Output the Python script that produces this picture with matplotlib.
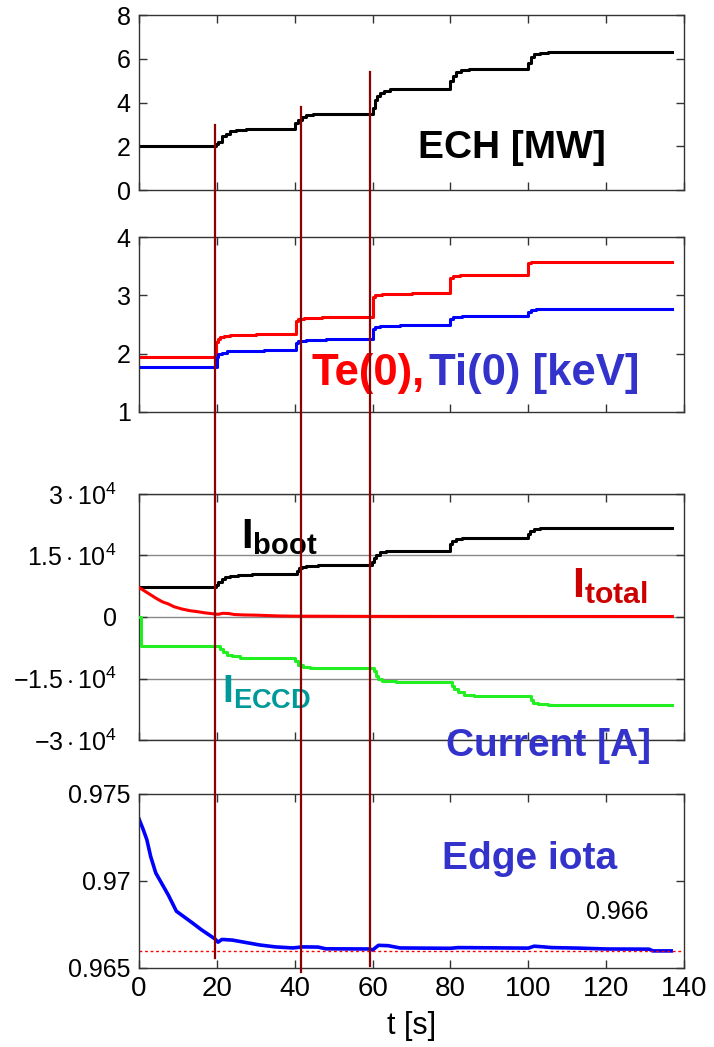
import numpy as np
import matplotlib
matplotlib.use("Agg")
import matplotlib.pyplot as plt
from matplotlib.lines import Line2D

plt.rcParams['font.family'] = ['Liberation Sans', 'DejaVu Sans']
plt.rcParams['mathtext.fontset'] = 'custom'
plt.rcParams['mathtext.rm'] = 'Liberation Sans'
plt.rcParams['mathtext.it'] = 'Liberation Sans:italic'
plt.rcParams['mathtext.bf'] = 'Liberation Sans:bold'

# ECH power [MW] (step data)
ech_t = [0, 19.7, 20.4, 21.3, 22.3, 23.5, 25, 27.5, 40.1, 40.8, 41.8, 43, 44.7,
         60, 60.5, 61.2, 62, 63, 64.5, 72, 80, 80.6, 81.5, 82.8, 84.8, 92,
         100, 100.6, 101.5, 103, 105, 137]
ech_v = [2.0, 2.12, 2.2, 2.45, 2.58, 2.68, 2.74, 2.78, 3.05, 3.2, 3.35, 3.42, 3.47,
         3.75, 4.1, 4.3, 4.45, 4.55, 4.6, 4.63, 5.0, 5.2, 5.38, 5.48, 5.52, 5.53,
         5.8, 6.1, 6.22, 6.28, 6.31, 6.31]

# central temperatures [keV]
te_t = [0, 19.9, 20.2, 20.8, 21.8, 23.5, 30, 40.3, 40.9, 42.5, 47, 60, 60.7, 62.5, 70,
        80, 80.6, 82.5, 100, 100.6, 137]
te_v = [1.94, 2.2, 2.26, 2.29, 2.31, 2.32, 2.33, 2.56, 2.6, 2.62, 2.63, 2.97, 3.01, 3.03, 3.04,
        3.3, 3.33, 3.35, 3.55, 3.58, 3.58]
ti_t = [0, 20, 20.4, 21.2, 22.5, 25, 32, 40.2, 40.8, 43, 48, 60, 60.6, 62, 67,
        80, 80.6, 83, 100, 100.6, 102, 106, 137]
ti_v = [1.77, 1.95, 1.99, 2.02, 2.04, 2.05, 2.06, 2.18, 2.22, 2.24, 2.25, 2.42, 2.46, 2.48, 2.49,
        2.6, 2.63, 2.65, 2.72, 2.75, 2.76, 2.77, 2.77]

# currents [A]
boot_t = [0, 19.8, 20.4, 21.2, 22.2, 23.5, 25.5, 29, 40.5, 41.0, 41.8, 43, 46,
          59.8, 60.3, 61, 62, 63.5, 68, 80, 80.5, 81.5, 83, 100, 100.5, 101.5, 103, 137]
boot_v = [7200, 7800, 8600, 9300, 9800, 10100, 10300, 10400, 11300, 11900, 12300, 12500, 12600,
          13500, 14500, 15200, 15800, 16000, 16200, 17800, 18600, 19000, 19300,
          20300, 21000, 21400, 21600, 21600]
total_t = [0, 1, 2, 3, 4.5, 6, 7.5, 9, 11, 13, 15, 17, 19, 20.3, 21.5, 23, 24.5, 27, 30,
           33, 36, 40, 60, 100, 137]
total_v = [7200, 6600, 6000, 5400, 4500, 3700, 3200, 2500, 1950, 1550, 1300, 1000, 780, 650,
           900, 850, 600, 500, 450, 350, 250, 200, 150, 130, 120]
eccd_t = [0, 0.4, 20.8, 21.6, 22.5, 24, 26, 40.1, 40.8, 42, 44, 60.3, 60.8, 61.5, 62.5, 66,
          80.3, 81, 82, 83.5, 86, 100.6, 101.2, 102.5, 105, 137]
eccd_v = [0, -7000, -7800, -8600, -9200, -9600, -10000, -10800, -11600, -12100, -12400,
          -13200, -14300, -15200, -15700, -15900, -16800, -17600, -18200, -18900, -19200,
          -20200, -20900, -21300, -21500, -21500]

# edge rotational transform
iota_t = [0, 1, 2, 3, 4.3, 6, 7.5, 9.6, 11.5, 13.7, 16, 19.5, 20.3, 21.3, 24, 26, 28, 31, 35,
          39.5, 42, 46, 48, 59.3, 60, 61.5, 64, 67, 80, 82, 100, 101.5, 104, 106, 113, 120,
          131, 132, 136.7]
iota_v = [0.97356, 0.9730, 0.97238, 0.9714, 0.97046, 0.96979, 0.9692, 0.96826, 0.96795,
          0.96759, 0.9672, 0.96667, 0.96648, 0.96664, 0.96660, 0.96652, 0.96644, 0.96632,
          0.96621, 0.96615, 0.96621, 0.96620, 0.96610, 0.96609, 0.96603, 0.96630, 0.96628,
          0.96615, 0.96613, 0.96617, 0.96614, 0.96625, 0.96621, 0.96617, 0.96614, 0.96609,
          0.96608, 0.96598, 0.96598]
iota_ref = 0.966

# times of ECH power steps (vertical markers): t, top in ECH panel, bottom in iota panel
mark_t = [19.6, 41.6, 59.4]
mark_top = [2.97, 3.8, 5.4]
mark_bot = [0.96557, 0.96477, 0.96511]

fig = plt.figure(figsize=(7.14, 10.47), dpi=100)
L, W = 0.1947, 0.7633
ax1 = fig.add_axes([L, 0.8185, W, 0.1671])
ax2 = fig.add_axes([L, 0.6065, W, 0.1671])
ax3 = fig.add_axes([L, 0.2932, W, 0.2350])
ax4 = fig.add_axes([L, 0.0755, W, 0.1662])

for ax in (ax1, ax2, ax3, ax4):
    ax.set_xlim(0, 140)
    ax.set_xticks(np.arange(0, 141, 20))
    ax.tick_params(direction='in', top=True, right=True, length=6, width=1,
                   color='#333333', labelsize=18, pad=6)
    for s in ax.spines.values():
        s.set_color('#333333')
        s.set_linewidth(1.0)
for ax in (ax1, ax2, ax3):
    ax.tick_params(labelbottom=False)

# ECH
ax1.step(ech_t, ech_v, where='post', color='black', lw=2.2)
ax1.set_ylim(0, 8)
ax1.set_yticks([0, 2, 4, 6, 8])
ax1.text(71.7, 1.48, 'ECH [MW]', fontsize=28, fontweight='bold', ha='left', va='baseline')

# temperatures
ax2.step(te_t, te_v, where='post', color='#ff0000', lw=2.2)
ax2.step(ti_t, ti_v, where='post', color='#0000ff', lw=2.2)
ax2.set_ylim(1, 4)
ax2.set_yticks([1, 2, 3, 4])
ax2.text(44.4, 1.463, 'Te(0),', color='#ff0000', fontsize=31.5, fontweight='bold',
         ha='left', va='baseline')
ax2.text(74.5, 1.463, 'Ti(0) [keV]', color='#3333cc', fontsize=31.5, fontweight='bold',
         ha='left', va='baseline')

# currents
ax3.yaxis.grid(True, color='#888888', lw=1)
ax3.step(boot_t, boot_v, where='post', color='black', lw=2.2, zorder=3)
ax3.plot(total_t, total_v, color='#ff0000', lw=2.2, zorder=3)
ax3.step(eccd_t, eccd_v, where='post', color='#22ee22', lw=2.2, zorder=3)
ax3.set_ylim(-3e4, 3e4)
ax3.set_yticks([-3e4, -1.5e4, 0, 1.5e4, 3e4])
ax3.set_yticklabels([r'$-3\cdot10^4$', r'$-1.5\cdot10^4$', '0',
                     r'$1.5\cdot10^4$', r'$3\cdot10^4$'])
ax3.tick_params(axis='y', pad=16)
ax3.text(26.1, 16800, r'$\mathbf{I}_{\mathbf{boot}}$', fontsize=30, ha='left', va='baseline')
ax3.text(111.2, 4900, r'$\mathbf{I}_{\mathbf{total}}$', color='#cc0000', fontsize=31,
         ha='left', va='baseline')
ax3.text(21.2, -20975, r'$\mathbf{I}_{\mathbf{ECCD}}$', color='#009999', fontsize=28,
         ha='left', va='baseline')
ax3.text(78.9, -33900, 'Current [A]', color='#3333cc', fontsize=28, fontweight='bold',
         ha='left', va='baseline')

# edge iota
ax4.plot(iota_t, iota_v, color='#0000ff', lw=2.6)
ax4.axhline(iota_ref, color='#ff0000', lw=1, ls=(0, (2, 2)))
ax4.set_ylim(0.965, 0.975)
ax4.set_yticks([0.965, 0.97, 0.975])
ax4.set_yticklabels(['0.965', '0.97', '0.975'])
ax4.tick_params(axis='x', labelsize=20)
ax4.text(77.8, 0.97069, 'Edge iota', color='#3333cc', fontsize=28, fontweight='bold',
         ha='left', va='baseline')
ax4.text(122.8, 0.96822, f'{iota_ref:.3f}', fontsize=18, ha='center', va='center')
ax4.set_xlabel('t [s]', fontsize=22, labelpad=6)

# vertical markers running through all panels (ECH panel data -> iota panel data)
to_fig = fig.transFigure.inverted()
for t, yt, yb in zip(mark_t, mark_top, mark_bot):
    x0, y0 = to_fig.transform(ax1.transData.transform((t, yt)))
    x1, y1 = to_fig.transform(ax4.transData.transform((t, yb)))
    fig.add_artist(Line2D([x0, x1], [y0, y1], transform=fig.transFigure,
                          color='#8b0000', lw=1.6, zorder=5))

fig.savefig('out.png', dpi=100)
